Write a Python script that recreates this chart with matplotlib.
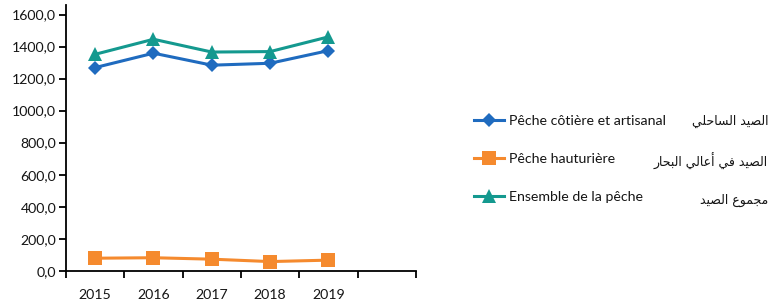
import matplotlib
matplotlib.use("Agg")
import matplotlib.pyplot as plt
from matplotlib.ticker import FuncFormatter, FixedLocator

years = ["2015", "2016", "2017", "2018", "2019"]
cotiere = [1269, 1359, 1284, 1296, 1375]
hauturiere = [78, 81, 72, 57, 66]
ensemble = [1352, 1446, 1366, 1369, 1461]
labels_fr = ["Pêche côtière et artisanal", "Pêche hauturière", "Ensemble de la pêche"]
labels_ar = ["الصيد الساحلي", "الصيد في أعالي البحار", "مجموع الصيد"]
yticks = [0, 200, 400, 600, 800, 1000, 1200, 1400, 1600]

colors = ["#1f6bbf", "#f58a2e", "#14998f"]

# --- simple Arabic shaping (presentation forms) for rendering without a shaper ---
FORMS = {
    "\u0627": ("\uFE8D", "\uFE8E", None, None),
    "\u0623": ("\uFE83", "\uFE84", None, None),
    "\u0628": ("\uFE8F", "\uFE90", "\uFE91", "\uFE92"),
    "\u062C": ("\uFE9D", "\uFE9E", "\uFE9F", "\uFEA0"),
    "\u062D": ("\uFEA1", "\uFEA2", "\uFEA3", "\uFEA4"),
    "\u062F": ("\uFEA9", "\uFEAA", None, None),
    "\u0631": ("\uFEAD", "\uFEAE", None, None),
    "\u0633": ("\uFEB1", "\uFEB2", "\uFEB3", "\uFEB4"),
    "\u0635": ("\uFEB9", "\uFEBA", "\uFEBB", "\uFEBC"),
    "\u0639": ("\uFEC9", "\uFECA", "\uFECB", "\uFECC"),
    "\u0641": ("\uFED1", "\uFED2", "\uFED3", "\uFED4"),
    "\u0644": ("\uFEDD", "\uFEDE", "\uFEDF", "\uFEE0"),
    "\u0645": ("\uFEE1", "\uFEE2", "\uFEE3", "\uFEE4"),
    "\u0648": ("\uFEED", "\uFEEE", None, None),
    "\u064A": ("\uFEF1", "\uFEF2", "\uFEF3", "\uFEF4"),
}


def shape(text):
    out = []
    n = len(text)
    for i, ch in enumerate(text):
        if ch not in FORMS:
            out.append(ch)
            continue
        f = FORMS[ch]
        prev = text[i - 1] if i > 0 else None
        nxt = text[i + 1] if i < n - 1 else None
        jp = prev in FORMS and FORMS[prev][2] is not None
        jn = nxt in FORMS and f[2] is not None
        if jp and jn:
            out.append(f[3])
        elif jp:
            out.append(f[1])
        elif jn:
            out.append(f[2])
        else:
            out.append(f[0])
    return "".join(out)[::-1]


plt.rcParams["font.family"] = ["Lato", "DejaVu Sans"]
TXT = "#151515"
FS = 10.2

fig = plt.figure(figsize=(7.7, 3.06), dpi=100)
ax = fig.add_axes([66 / 770, (306 - 270.7) / 306, (416 - 66) / 770, (270.7 - 5) / 306])

x = list(range(len(years)))
series = [cotiere, hauturiere, ensemble]
markers = ["D", "s", "^"]
msizes = [6.8, 9.4, 9.8]
handles = []
for vals, c, m, ms, lab in zip(series, colors, markers, msizes, labels_fr):
    h, = ax.plot(x, vals, color=c, lw=2.2, marker=m, markersize=ms,
                 markeredgewidth=0, label=lab)
    handles.append(h)

ax.set_xlim(-0.5, 5.5)
ax.set_ylim(0, 1660)
ax.yaxis.set_major_locator(FixedLocator(yticks))
ax.yaxis.set_major_formatter(FuncFormatter(lambda v, p: f"{v:.1f}".replace(".", ",")))

ax.set_xticks([i - 0.5 for i in range(7)])
ax.set_xticklabels([])
ax.set_xticks(x, minor=True)
ax.set_xticklabels(years, minor=True)
ax.tick_params(axis="x", which="major", direction="out", length=5, width=1.3, color="black")
ax.tick_params(axis="x", which="minor", length=0, pad=13, labelsize=FS, labelcolor=TXT)
ax.tick_params(axis="y", direction="out", length=5, width=1.3, pad=2, labelsize=FS, labelcolor=TXT)

for s in ["top", "right"]:
    ax.spines[s].set_visible(False)
for s in ["left", "bottom"]:
    ax.spines[s].set_linewidth(1.3)
    ax.spines[s].set_color("black")

leg = fig.legend(handles=handles, labels=labels_fr, loc="upper left",
                 bbox_to_anchor=(474 / 770, 1 - 115 / 306), frameon=False,
                 fontsize=FS, handlelength=2.1, handletextpad=0.4,
                 labelspacing=1.82, borderaxespad=0, borderpad=0)
for t in leg.get_texts():
    t.set_color(TXT)

ys = [121, 161, 200]
for lab, yy in zip(labels_ar, ys):
    fig.text(768 / 770, 1 - yy / 306, shape(lab), ha="right", va="center",
             fontsize=9.0, family=["DejaVu Sans"], color=TXT)

fig.savefig("out.png", dpi=100)
